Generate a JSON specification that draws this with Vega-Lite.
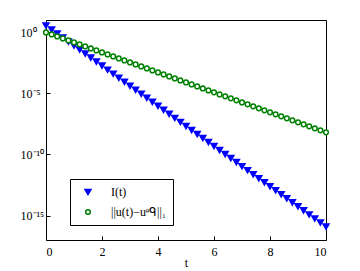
{
  "$schema": "https://vega.github.io/schema/vega-lite/v6.json",
  "width": 280,
  "height": 220,
  "autosize": {"type": "none"},
  "padding": {"left": 46, "top": 20, "right": 34, "bottom": 31},
  "background": "white",
  "config": {
    "view": {"stroke": "black", "strokeWidth": 1},
    "font": "Liberation Serif",
    "axis": {"grid": false, "domain": false, "labelFont": "Liberation Serif", "labelFontSize": 12, "labelColor": "black", "titleFont": "Liberation Serif", "titleFontWeight": "normal", "titleFontSize": 12, "titleColor": "black", "tickColor": "black", "tickSize": -4},
    "legend": {"strokeColor": "black", "fillColor": "white", "padding": 7, "labelFont": "Liberation Serif", "labelFontSize": 12, "labelColor": "black", "symbolOffset": 5, "labelOffset": 17, "rowPadding": 8, "symbolStrokeWidth": 1.5, "cornerRadius": 0}
  },
  "data": {"values": [
    {"t":0,"value":3.55e0,"series":"I(t)"},{"t":0.2,"value":1.66e0,"series":"I(t)"},{"t":0.4,"value":7.80e-1,"series":"I(t)"},{"t":0.6,"value":3.66e-1,"series":"I(t)"},{"t":0.8,"value":1.71e-1,"series":"I(t)"},
    {"t":1,"value":8.04e-2,"series":"I(t)"},{"t":1.2,"value":3.77e-2,"series":"I(t)"},{"t":1.4,"value":1.77e-2,"series":"I(t)"},{"t":1.6,"value":8.28e-3,"series":"I(t)"},{"t":1.8,"value":3.88e-3,"series":"I(t)"},
    {"t":2,"value":1.82e-3,"series":"I(t)"},{"t":2.2,"value":8.53e-4,"series":"I(t)"},{"t":2.4,"value":4.00e-4,"series":"I(t)"},{"t":2.6,"value":1.87e-4,"series":"I(t)"},{"t":2.8,"value":8.79e-5,"series":"I(t)"},
    {"t":3,"value":4.12e-5,"series":"I(t)"},{"t":3.2,"value":1.93e-5,"series":"I(t)"},{"t":3.4,"value":9.06e-6,"series":"I(t)"},{"t":3.6,"value":4.25e-6,"series":"I(t)"},{"t":3.8,"value":1.99e-6,"series":"I(t)"},
    {"t":4,"value":9.33e-7,"series":"I(t)"},{"t":4.2,"value":4.38e-7,"series":"I(t)"},{"t":4.4,"value":2.05e-7,"series":"I(t)"},{"t":4.6,"value":9.62e-8,"series":"I(t)"},{"t":4.8,"value":4.51e-8,"series":"I(t)"},
    {"t":5,"value":2.11e-8,"series":"I(t)"},{"t":5.2,"value":9.91e-9,"series":"I(t)"},{"t":5.4,"value":4.65e-9,"series":"I(t)"},{"t":5.6,"value":2.18e-9,"series":"I(t)"},{"t":5.8,"value":1.02e-9,"series":"I(t)"},
    {"t":6,"value":4.79e-10,"series":"I(t)"},{"t":6.2,"value":2.24e-10,"series":"I(t)"},{"t":6.4,"value":1.05e-10,"series":"I(t)"},{"t":6.6,"value":4.93e-11,"series":"I(t)"},{"t":6.8,"value":2.31e-11,"series":"I(t)"},
    {"t":7,"value":1.08e-11,"series":"I(t)"},{"t":7.2,"value":5.08e-12,"series":"I(t)"},{"t":7.4,"value":2.38e-12,"series":"I(t)"},{"t":7.6,"value":1.12e-12,"series":"I(t)"},{"t":7.8,"value":5.24e-13,"series":"I(t)"},
    {"t":8,"value":2.45e-13,"series":"I(t)"},{"t":8.2,"value":1.15e-13,"series":"I(t)"},{"t":8.4,"value":5.40e-14,"series":"I(t)"},{"t":8.6,"value":2.53e-14,"series":"I(t)"},{"t":8.8,"value":1.19e-14,"series":"I(t)"},
    {"t":9,"value":5.56e-15,"series":"I(t)"},{"t":9.2,"value":2.61e-15,"series":"I(t)"},{"t":9.4,"value":1.22e-15,"series":"I(t)"},{"t":9.6,"value":5.73e-16,"series":"I(t)"},{"t":9.8,"value":2.69e-16,"series":"I(t)"},
    {"t":10,"value":1.26e-16,"series":"I(t)"},
    {"t":0,"value":9.55e-1,"series":"||u(t)−uᵉᑫ||₁"},{"t":0.2,"value":6.56e-1,"series":"||u(t)−uᵉᑫ||₁"},{"t":0.4,"value":4.50e-1,"series":"||u(t)−uᵉᑫ||₁"},{"t":0.6,"value":3.09e-1,"series":"||u(t)−uᵉᑫ||₁"},{"t":0.8,"value":2.12e-1,"series":"||u(t)−uᵉᑫ||₁"},
    {"t":1,"value":1.46e-1,"series":"||u(t)−uᵉᑫ||₁"},{"t":1.2,"value":9.99e-2,"series":"||u(t)−uᵉᑫ||₁"},{"t":1.4,"value":6.86e-2,"series":"||u(t)−uᵉᑫ||₁"},{"t":1.6,"value":4.71e-2,"series":"||u(t)−uᵉᑫ||₁"},{"t":1.8,"value":3.23e-2,"series":"||u(t)−uᵉᑫ||₁"},
    {"t":2,"value":2.22e-2,"series":"||u(t)−uᵉᑫ||₁"},{"t":2.2,"value":1.52e-2,"series":"||u(t)−uᵉᑫ||₁"},{"t":2.4,"value":1.05e-2,"series":"||u(t)−uᵉᑫ||₁"},{"t":2.6,"value":7.17e-3,"series":"||u(t)−uᵉᑫ||₁"},{"t":2.8,"value":4.93e-3,"series":"||u(t)−uᵉᑫ||₁"},
    {"t":3,"value":3.38e-3,"series":"||u(t)−uᵉᑫ||₁"},{"t":3.2,"value":2.32e-3,"series":"||u(t)−uᵉᑫ||₁"},{"t":3.4,"value":1.59e-3,"series":"||u(t)−uᵉᑫ||₁"},{"t":3.6,"value":1.09e-3,"series":"||u(t)−uᵉᑫ||₁"},{"t":3.8,"value":7.51e-4,"series":"||u(t)−uᵉᑫ||₁"},
    {"t":4,"value":5.15e-4,"series":"||u(t)−uᵉᑫ||₁"},{"t":4.2,"value":3.54e-4,"series":"||u(t)−uᵉᑫ||₁"},{"t":4.4,"value":2.43e-4,"series":"||u(t)−uᵉᑫ||₁"},{"t":4.6,"value":1.67e-4,"series":"||u(t)−uᵉᑫ||₁"},{"t":4.8,"value":1.14e-4,"series":"||u(t)−uᵉᑫ||₁"},
    {"t":5,"value":7.85e-5,"series":"||u(t)−uᵉᑫ||₁"},{"t":5.2,"value":5.39e-5,"series":"||u(t)−uᵉᑫ||₁"},{"t":5.4,"value":3.70e-5,"series":"||u(t)−uᵉᑫ||₁"},{"t":5.6,"value":2.54e-5,"series":"||u(t)−uᵉᑫ||₁"},{"t":5.8,"value":1.74e-5,"series":"||u(t)−uᵉᑫ||₁"},
    {"t":6,"value":1.20e-5,"series":"||u(t)−uᵉᑫ||₁"},{"t":6.2,"value":8.21e-6,"series":"||u(t)−uᵉᑫ||₁"},{"t":6.4,"value":5.64e-6,"series":"||u(t)−uᵉᑫ||₁"},{"t":6.6,"value":3.87e-6,"series":"||u(t)−uᵉᑫ||₁"},{"t":6.8,"value":2.66e-6,"series":"||u(t)−uᵉᑫ||₁"},
    {"t":7,"value":1.82e-6,"series":"||u(t)−uᵉᑫ||₁"},{"t":7.2,"value":1.25e-6,"series":"||u(t)−uᵉᑫ||₁"},{"t":7.4,"value":8.59e-7,"series":"||u(t)−uᵉᑫ||₁"},{"t":7.6,"value":5.90e-7,"series":"||u(t)−uᵉᑫ||₁"},{"t":7.8,"value":4.05e-7,"series":"||u(t)−uᵉᑫ||₁"},
    {"t":8,"value":2.78e-7,"series":"||u(t)−uᵉᑫ||₁"},{"t":8.2,"value":1.91e-7,"series":"||u(t)−uᵉᑫ||₁"},{"t":8.4,"value":1.31e-7,"series":"||u(t)−uᵉᑫ||₁"},{"t":8.6,"value":8.99e-8,"series":"||u(t)−uᵉᑫ||₁"},{"t":8.8,"value":6.17e-8,"series":"||u(t)−uᵉᑫ||₁"},
    {"t":9,"value":4.24e-8,"series":"||u(t)−uᵉᑫ||₁"},{"t":9.2,"value":2.91e-8,"series":"||u(t)−uᵉᑫ||₁"},{"t":9.4,"value":2.00e-8,"series":"||u(t)−uᵉᑫ||₁"},{"t":9.6,"value":1.37e-8,"series":"||u(t)−uᵉᑫ||₁"},{"t":9.8,"value":9.41e-9,"series":"||u(t)−uᵉᑫ||₁"},
    {"t":10,"value":6.46e-9,"series":"||u(t)−uᵉᑫ||₁"}
  ]},
  "mark": {"type": "point", "filled": false, "strokeWidth": 1.5, "opacity": 1},
  "encoding": {
    "x": {"field": "t", "type": "quantitative", "scale": {"domain": [0, 10], "nice": false},
          "axis": {"values": [0, 2, 4, 6, 8, 10], "title": "t", "labelPadding": 10, "titlePadding": 0}},
    "y": {"field": "value", "type": "quantitative", "scale": {"type": "log", "domain": [1e-17, 10], "nice": false},
          "axis": {"values": [1, 1e-5, 1e-10, 1e-15], "title": null, "labelPadding": 30, "labelAlign": "left",
                   "labelExpr": "datum.value > 0.5 ? '10⁰' : datum.value > 1e-6 ? '10⁻⁵' : datum.value > 1e-11 ? '10⁻¹⁰' : '10⁻¹⁵'"}},
    "shape": {"field": "series", "type": "nominal",
              "scale": {"domain": ["I(t)", "||u(t)−uᵉᑫ||₁"], "range": ["triangle-down", "circle"]},
              "legend": {"title": null, "orient": "none", "legendX": 24, "legendY": 159}},
    "color": {"field": "series", "type": "nominal",
              "scale": {"domain": ["I(t)", "||u(t)−uᵉᑫ||₁"], "range": ["#0000ff", "#008000"]},
              "legend": {"title": null, "orient": "none", "legendX": 24, "legendY": 159}},
    "fill": {"field": "series", "type": "nominal",
             "scale": {"domain": ["I(t)", "||u(t)−uᵉᑫ||₁"], "range": ["#0000ff", "#ffffff"]},
             "legend": {"title": null, "orient": "none", "legendX": 24, "legendY": 159}},
    "size": {"field": "series", "type": "nominal", "legend": null,
             "scale": {"domain": ["I(t)", "||u(t)−uᵉᑫ||₁"], "range": [36, 22]}}
  }
}
